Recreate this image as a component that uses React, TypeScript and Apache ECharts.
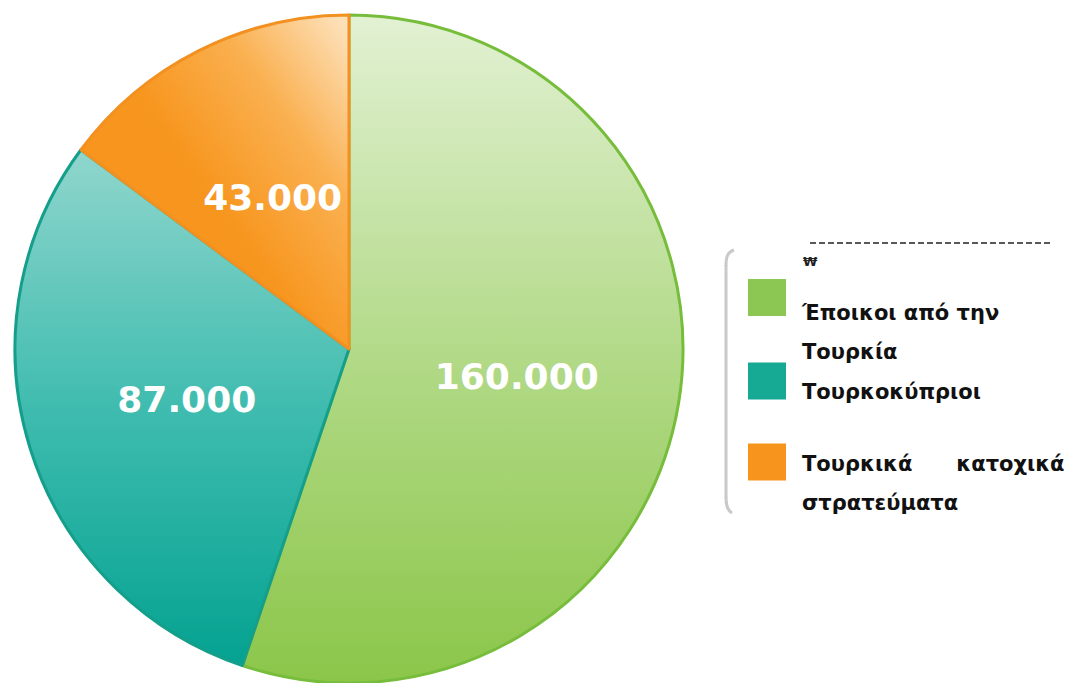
import React, { useEffect, useRef } from 'react';
import * as echarts from 'echarts';

// ---- data ----
const categories = ['Έποικοι από την Τουρκία', 'Τουρκοκύπριοι', 'Τουρκικά κατοχικά στρατεύματα'];
const values = [160000, 87000, 43000];
const legendLines = [
  ['Έποικοι από την', 'Τουρκία'],
  ['Τουρκοκύπριοι'],
  ['Τουρκικά      κατοχικά', 'στρατεύματα'],
];
const legendSymbolNote = '₩';

// ---- styles ----
const flatColors = ['#8dc753', '#16a994', '#f7941d'];
const gradients = [
  { x: 0.5, y: 0, x2: 0.5, y2: 1, stops: [[0, '#e2f1d3'], [0.5, '#b3da89'], [1, '#8bc649']] },
  { x: 0.5, y: 0, x2: 0.5, y2: 1, stops: [[0, '#90d6cd'], [0.5, '#3fbcaf'], [1, '#04a291']] },
  { x: 0.95, y: 0, x2: 0.1, y2: 0.75, stops: [[0, '#fde0b8'], [0.3, '#fab050'], [0.62, '#f7961f'], [1, '#f7941d']] },
];
const borderColors = ['#77bd3c', '#159f8b', '#f29020'];
const legendTops = [255.5, 358.5, 420];
const legendSpacers = [70, 21, 42];

const fmt = (v: number) => String(v).replace(/\B(?=(\d{3})+(?!\d))/g, '.');

export default function App() {
  const ref = useRef<HTMLDivElement>(null);
  useEffect(() => {
    if (!ref.current) return;
    const chart = echarts.init(ref.current, undefined, { renderer: 'svg' });
    const option: any = {
      animation: false,
      backgroundColor: '#ffffff',
      legend: categories.map((c, i) => ({
        data: [{ name: c, itemStyle: { color: flatColors[i], borderWidth: 0 } }],
        left: 748,
        top: legendTops[i],
        orient: 'vertical',
        padding: 0,
        itemWidth: 38,
        itemHeight: 37,
        itemGap: 0,
        icon: 'rect',
        selectedMode: false,
        formatter: () =>
          '{s| }\n' + legendLines[i].map((l) => '{t|' + l + '}').join('\n'),
        textStyle: {
          rich: {
            s: { fontSize: 6, lineHeight: legendSpacers[i], padding: [0, 0, 0, 11] },
            t: {
              fontFamily: 'DejaVu Sans',
              fontWeight: 'bold',
              fontSize: 21,
              color: '#111111',
              lineHeight: 39,
              padding: [0, 0, 0, 11],
            },
          },
        },
      })),
      graphic: [
        {
          type: 'line',
          shape: { x1: 810, y1: 243, x2: 1052, y2: 243 },
          style: { stroke: '#222', lineWidth: 1.5, lineDash: [6, 3] },
        },
        {
          type: 'text',
          x: 803,
          y: 255,
          style: { text: legendSymbolNote, fontFamily: 'DejaVu Sans', fontWeight: 'bold', fontSize: 13, fill: '#222' },
        },
        {
          type: 'bezierCurve',
          shape: { x1: 734, y1: 250, cpx1: 727, cpy1: 252, cpx2: 726, cpy2: 258, x2: 726, y2: 266 },
          style: { stroke: '#c9c9c9', lineWidth: 3, fill: 'none' },
        },
        {
          type: 'line',
          shape: { x1: 726, y1: 265, x2: 726, y2: 498 },
          style: { stroke: '#c9c9c9', lineWidth: 3 },
        },
        {
          type: 'bezierCurve',
          shape: { x1: 726, y1: 497, cpx1: 726, cpy1: 505, cpx2: 727, cpy2: 510, x2: 732, y2: 513 },
          style: { stroke: '#c9c9c9', lineWidth: 3, fill: 'none' },
        },
      ],
      series: [
        {
          type: 'pie',
          center: [349, 349],
          radius: 334,
          startAngle: 90,
          clockwise: true,
          avoidLabelOverlap: false,
          emphasis: { disabled: true },
          labelLine: { show: false },
          label: {
            show: true,
            position: 'inside',
            formatter: (p: any) => fmt(p.value),
            color: '#ffffff',
            fontFamily: 'DejaVu Sans',
            fontWeight: 'bold',
            fontSize: 36,
          },
          data: categories.map((c, i) => ({
            name: c,
            value: values[i],
            itemStyle: {
              color: new echarts.graphic.LinearGradient(
                gradients[i].x, gradients[i].y, gradients[i].x2, gradients[i].y2,
                gradients[i].stops.map((s: any) => ({ offset: s[0], color: s[1] }))
              ),
              borderColor: borderColors[i],
              borderWidth: 3,
            },
          })),
        },
      ],
    };
    chart.setOption(option);
    return () => chart.dispose();
  }, []);
  return (
    <div
      ref={ref}
      style={{ position: 'fixed', left: 0, top: 0, width: 1071, height: 683, background: '#fff' }}
    />
  );
}
